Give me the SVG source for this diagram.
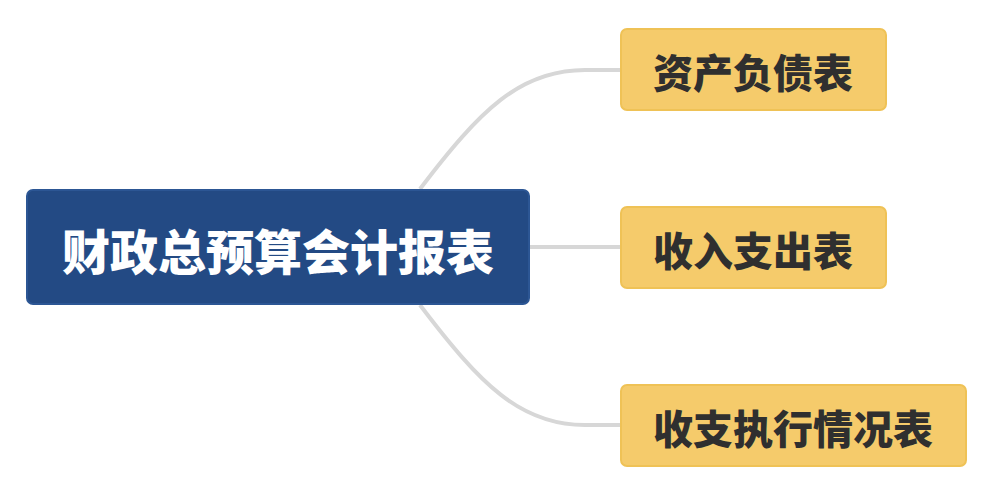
<svg xmlns="http://www.w3.org/2000/svg" width="999" height="495" viewBox="0 0 999 495">
<style>
.root rect{fill:#234a84;stroke:#2c5694;stroke-width:2}
.root text{fill:#ffffff;font-family:"Noto Sans CJK SC","Noto Sans",sans-serif;font-weight:900;font-size:48px}
.leaf rect{fill:#f5cb6b;stroke:#efc256;stroke-width:2}
.leaf text{fill:#2f2f2f;font-family:"Noto Sans CJK SC","Noto Sans",sans-serif;font-weight:900;font-size:40px}
.conn path{fill:none;stroke:#d7d7d7;stroke-width:4}
</style>
<rect width="999" height="495" fill="#ffffff"/>
<g id="connectors" class="conn">
<path d="M420,189 C480,110 520,70 585,70 L622,70"/>
<path d="M530,247 L622,247"/>
<path d="M420,305 C480,384 520,425 585,425 L622,425"/>
</g>
<g id="root" class="root">
<rect x="27" y="190" width="502" height="114" rx="6"/>
<text x="278" y="249" text-anchor="middle" dominant-baseline="central">财政总预算会计报表</text>
</g>
<g id="n1" class="leaf">
<rect x="621" y="29" width="265" height="81" rx="6"/>
<text x="753" y="71" text-anchor="middle" dominant-baseline="central">资产负债表</text>
</g>
<g id="n2" class="leaf">
<rect x="621" y="207" width="265" height="81" rx="6"/>
<text x="753" y="249" text-anchor="middle" dominant-baseline="central">收入支出表</text>
</g>
<g id="n3" class="leaf">
<rect x="621" y="385" width="345" height="81" rx="6"/>
<text x="793" y="427" text-anchor="middle" dominant-baseline="central">收支执行情况表</text>
</g>
</svg>
